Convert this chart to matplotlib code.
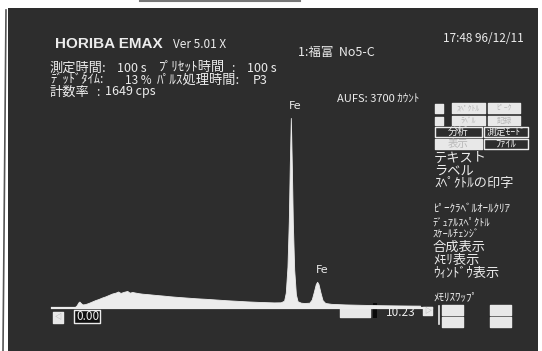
import matplotlib
matplotlib.use("Agg")
import matplotlib.pyplot as plt
from matplotlib.patches import Rectangle

plt.rcParams['font.family'] = ['Noto Sans CJK JP', 'DejaVu Sans']

# ---------- data ----------
energy_kev = [0.00, 0.05, 0.10, 0.13, 0.17, 0.22, 0.30, 0.40, 0.50, 0.60, 0.70, 0.80, 0.90,
              1.00, 1.10, 1.20, 1.28, 1.35, 1.45, 1.55, 1.62, 1.70, 1.80, 1.90, 2.00, 2.20,
              2.40, 2.60, 2.80, 3.00, 3.30, 3.60, 3.90, 4.20, 4.50, 4.80, 5.10, 5.40, 5.70,
              5.90, 6.10, 6.20, 6.25, 6.30, 6.34, 6.37, 6.40, 6.43, 6.46, 6.50, 6.55, 6.60,
              6.70, 6.80, 6.95, 7.02, 7.08, 7.14, 7.18, 7.22, 7.28, 7.34, 7.42, 7.60, 8.00,
              8.50, 9.00, 9.50, 10.00, 10.23]
counts = [0, 30, 80, 95, 70, 45, 50, 70, 95, 120, 140, 165, 185,
          210, 235, 250, 270, 245, 265, 280, 250, 262, 250, 240, 232, 222,
          210, 200, 188, 178, 165, 152, 142, 130, 118, 108, 98, 90, 84,
          80, 82, 110, 250, 700, 1500, 2500, 3300, 2450, 1450, 650, 220, 100,
          75, 70, 75, 130, 260, 400, 440, 400, 250, 120, 70, 55, 45,
          38, 32, 28, 25, 24]
peak_labels = ["Fe", "Fe"]
peak_label_kev = [6.40, 7.18]
peak_label_counts = [3420, 560]
aufs = 3700
x_min, x_max = 0.00, 10.23

BG = "#2d2d2d"
FG = "#ececec"
W, H = 542, 351

fig = plt.figure(figsize=(W / 100, H / 100), dpi=100, facecolor="white")
bg = fig.add_axes([0, 0, 1, 1])
bg.set_xlim(0, W); bg.set_ylim(H, 0); bg.axis("off")

# screen area + photo border
bg.add_patch(Rectangle((8, 8), 530, 345, facecolor=BG, edgecolor="none"))
bg.plot([6, 3], [10, 351], color="#555555", lw=1.2)
bg.plot([140, 300], [1, 1], color="#777777", lw=1.5)


def txt(x, y, s, size=8.5, color=FG, **kw):
    bg.text(x, y, s, fontsize=size, color=color, ha="left", va="center", **kw)


def button(x0, y0, x1, y1, fill, edge, label="", lcolor=FG, size=7):
    bg.add_patch(Rectangle((x0, y0), x1 - x0, y1 - y0, facecolor=fill, edgecolor=edge,
                           lw=1.0, joinstyle="round"))
    if label:
        bg.text((x0 + x1) / 2, (y0 + y1) / 2, label, fontsize=size, color=lcolor,
                ha="center", va="center")


# header
txt(55, 44, "HORIBA EMAX", 11, family=["Liberation Sans", "DejaVu Sans"], fontweight="bold")
txt(173, 44, "Ver 5.01 X", 8.5)
txt(298, 52, "1:福富  No5-C", 9)
txt(443, 38, "17:48 96/12/11", 8.5)

txt(50, 68, "測定時間:", 9.5)
txt(117, 68, "100 s", 9)
txt(158, 68, "ﾌﾟﾘｾｯﾄ時間", 9.5)
txt(231, 68, ":", 9)
txt(247, 68, "100 s", 9)

txt(50, 80, "ﾃﾞｯﾄﾞﾀｲﾑ:", 9)
txt(125, 80, "13 %", 8.5)
txt(157, 80, "ﾊﾟﾙｽ処理時間:", 9.5)
txt(253, 80, "P3", 9)

txt(50, 92, "計数率", 9.5)
txt(96, 92, ":", 9)
txt(105, 92, "1649 cps", 9)

txt(337, 99, f"AUFS: {aufs} ｶｳﾝﾄ", 8)

# right-hand menu buttons
button(435, 104, 443, 113, "#e8e8e8", "#e8e8e8")
button(452, 103, 485, 113, "#e8e8e8", "#e8e8e8", "ｽﾍﾟｸﾄﾙ", "#b8b8b8", 5.5)
button(488, 103, 520, 113, "#e8e8e8", "#e8e8e8", "ﾋﾟｰｸ", "#b8b8b8", 5.5)
button(435, 117, 443, 125, "#e8e8e8", "#e8e8e8")
button(452, 116, 485, 125, "#e8e8e8", "#e8e8e8", "ﾗﾍﾞﾙ", "#b8b8b8", 5.5)
button(488, 116, 520, 125, "#e8e8e8", "#e8e8e8", "記録", "#b8b8b8", 5.5)
button(435, 127, 482, 137, BG, FG, "分析", FG, 7.5)
button(484, 127, 528, 137, BG, FG, "測定ﾓｰﾄﾞ", FG, 7)
button(435, 139, 482, 149, "#e8e8e8", "#e8e8e8", "表示", "#b8b8b8", 7.5)
button(484, 139, 528, 149, BG, FG, "ﾌｧｲﾙ", FG, 7.5)

txt(434, 158, "テキスト", 9.5)
txt(434, 171, "ラベル", 9.5)
txt(434, 184, "ｽﾍﾟｸﾄﾙの印字", 9.5)
txt(433, 209, "ﾋﾟｰｸﾗﾍﾞﾙｵｰﾙｸﾘｱ", 8)
txt(433, 222, "ﾃﾞｭｱﾙｽﾍﾟｸﾄﾙ", 7.5)
txt(433, 234, "ｽｹｰﾙﾁｪﾝｼﾞ", 7.5)
txt(433, 247, "合成表示", 9.5)
txt(433, 260, "ﾒﾓﾘ表示", 9.5)
txt(433, 273, "ｳｨﾝﾄﾞｳ表示", 9.5)
txt(433, 297, "ﾒﾓﾘｽﾜｯﾌﾟ", 8)

# bottom controls
button(53, 312, 63, 323, "#e8e8e8", "#e8e8e8", "◁", "#999999", 5)
button(74, 310, 100, 323, "#111111", FG)
txt(76, 316.5, f"{x_min:.2f}", 8.5)
button(340, 307, 370, 317, "#e8e8e8", "#e8e8e8")
bg.add_patch(Rectangle((373, 303), 4, 15, facecolor="#0a0a0a", edgecolor="none"))
txt(386, 313, f"{x_max:.2f}", 8.5)
button(423, 307, 432, 315, "#e8e8e8", "#e8e8e8", "▷", "#999999", 5)
bg.plot([439, 439], [306, 324], color=FG, lw=1.2)
for bx in (442, 490):
    button(bx, 305, bx + 21, 315, "#e8e8e8", "#e8e8e8")
    button(bx, 317, bx + 21, 327, "#e8e8e8", "#e8e8e8")

# baseline
bg.plot([52, 432], [307.5, 307.5], color=FG, lw=1.6)

# spectrum
sp = fig.add_axes([75 / W, (H - 307) / H, 345 / W, 212 / H])
sp.set_xlim(x_min, x_max)
sp.set_ylim(0, aufs)
sp.axis("off")
sp.patch.set_alpha(0)
sp.fill_between(energy_kev, 0, counts, color=FG, lw=0.6, edgecolor=FG)
for lab, ex, ey in zip(peak_labels, peak_label_kev, peak_label_counts):
    sp.text(ex - 0.05, ey, lab, fontsize=8, color=FG, ha="left", va="bottom",
            family="DejaVu Sans")

fig.savefig("out.png", dpi=100, facecolor="white")
